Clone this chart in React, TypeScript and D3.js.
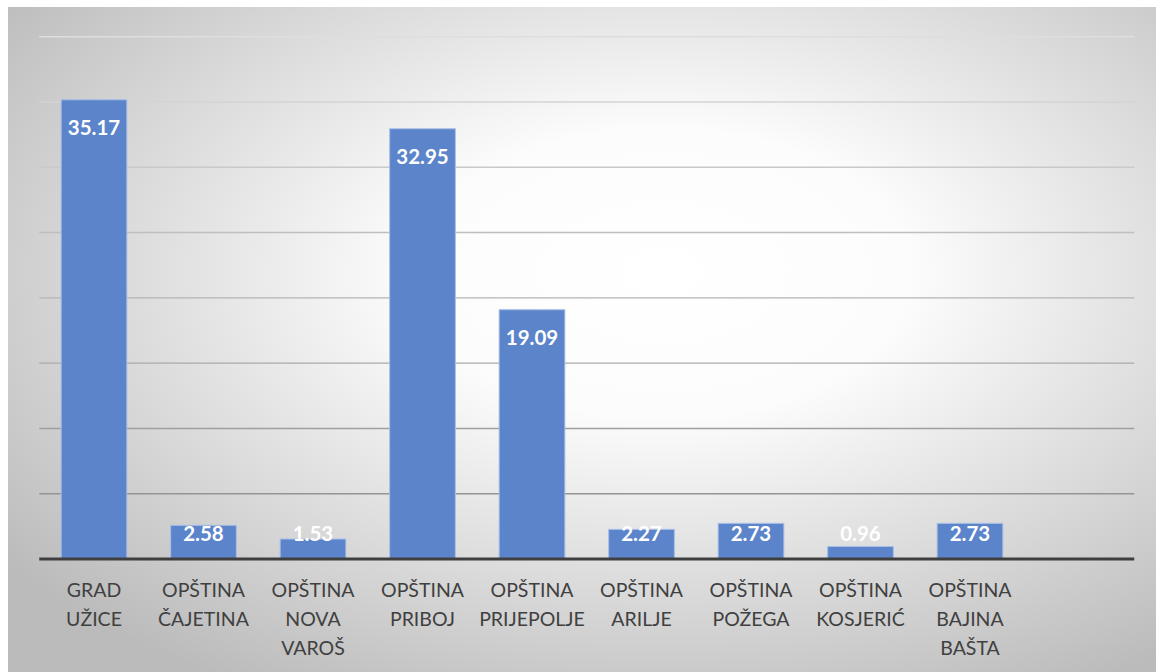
import React from "react";
import * as d3 from "d3";

const categories = [
  ["GRAD", "UŽICE"],
  ["OPŠTINA", "ČAJETINA"],
  ["OPŠTINA", "NOVA", "VAROŠ"],
  ["OPŠTINA", "PRIBOJ"],
  ["OPŠTINA", "PRIJEPOLJE"],
  ["OPŠTINA", "ARILJE"],
  ["OPŠTINA", "POŽEGA"],
  ["OPŠTINA", "KOSJERIĆ"],
  ["OPŠTINA", "BAJINA", "BAŠTA"],
  [""],
];
const values = [35.17, 2.58, 1.53, 32.95, 19.09, 2.27, 2.73, 0.96, 2.73, null];
const valueLabels = ["35.17", "2.58", "1.53", "32.95", "19.09", "2.27", "2.73", "0.96", "2.73", ""];
const yTicks = [0, 5, 10, 15, 20, 25, 30, 35, 40];

const W = 1156;
const H = 672;
const left = 39.25;
const right = 1134.25;
const top = 36.7;
const bottom = 559;
const FONT = "Lato, 'Open Sans', sans-serif";

export default function App() {
  const keys = categories.map((_, i) => String(i));
  const x = d3.scaleBand<string>().domain(keys).range([left, right]).paddingInner(0.4).paddingOuter(0.2);
  const y = d3.scaleLinear().domain([0, 40]).range([bottom, top]);
  const labelClamp = y(0) - 26;

  return (
    <svg width={W} height={H} style={{ position: "absolute", left: 0, top: 0 }}>
      <defs>
        <radialGradient id="bg" cx="0.57" cy="0.4" r="0.72" fx="0.57" fy="0.4">
          <stop offset="0" stopColor="#ffffff" />
          <stop offset="0.3" stopColor="#fcfcfc" />
          <stop offset="1" stopColor="#bbbbbb" />
        </radialGradient>
        <linearGradient id="grid" gradientUnits="userSpaceOnUse" x1="0" y1={top} x2="0" y2={bottom}>
          <stop offset="0" stopColor="#dedede" />
          <stop offset="1" stopColor="#8a8a8a" />
        </linearGradient>
      </defs>
      <rect x={0} y={0} width={W} height={H} fill="#ffffff" />
      <rect x={8} y={7} width={W - 8} height={H - 7} fill="url(#bg)" />
      {yTicks.slice(1).map((t) => (
        <line key={t} x1={left} x2={right} y1={y(t)} y2={y(t)} stroke="url(#grid)" strokeWidth={1.4} />
      ))}
      {values.map((v, i) =>
        v == null ? null : (
          <rect
            key={i}
            x={x(String(i))!}
            y={y(v)}
            width={x.bandwidth()}
            height={y(0) - y(v)}
            fill="#5b84cb"
            stroke="#a8bfe6"
            strokeWidth={1}
          />
        )
      )}
      <line x1={left} x2={right} y1={y(0)} y2={y(0)} stroke="#3f3f3f" strokeWidth={3} />
      {values.map((v, i) =>
        v == null ? null : (
          <text
            key={"l" + i}
            x={x(String(i))! + x.bandwidth() / 2}
            y={Math.min(y(v) + 27, labelClamp)}
            textAnchor="middle"
            dominantBaseline="central"
            fill="#ffffff"
            fontFamily={FONT}
            fontWeight={700}
            fontSize={20.5}
          >
            {valueLabels[i]}
          </text>
        )
      )}
      {categories.map((lines, i) => (
        <text
          key={"c" + i}
          x={x(String(i))! + x.bandwidth() / 2}
          textAnchor="middle"
          fill="#404040"
          fontFamily={FONT}
          fontSize={19.5}
        >
          {lines.map((ln, j) => (
            <tspan key={j} x={x(String(i))! + x.bandwidth() / 2} y={597 + j * 29}>
              {ln}
            </tspan>
          ))}
        </text>
      ))}
    </svg>
  );
}
